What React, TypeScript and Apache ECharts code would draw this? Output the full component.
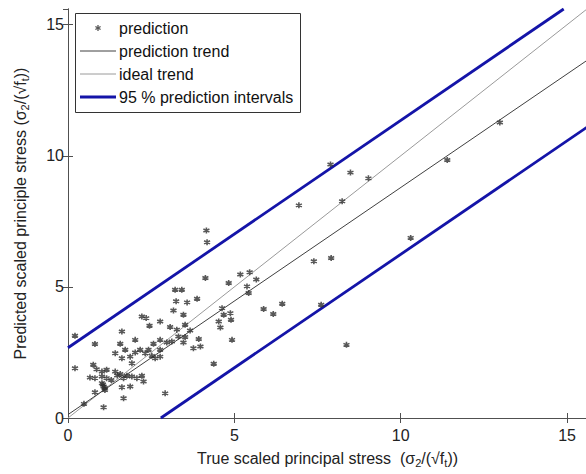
import React, { useEffect, useRef } from "react";
import * as echarts from "echarts";

const trueStress = [
  0.21, 0.21, 4.16, 4.18, 6.94, 8.24, 7.89, 8.49, 9.03, 11.4, 12.98, 10.3, 7.39, 7.91, 7.61, 8.37,
  6.44, 5.88, 6.17, 5.66, 4.13, 4.83, 5.18, 5.46, 5.38, 5.43, 4.63, 4.68, 4.88, 4.9, 4.53, 4.58,
  4.93, 4.38, 3.22, 3.42, 3.25, 3.58, 3.88, 3.17, 3.47, 3.93, 3.77, 3.98, 3.52, 3.67, 3.27, 3.07,
  2.77, 2.45, 2.22, 2.35, 1.62, 2.02, 0.81, 3.32, 3.12, 3.47, 3.52, 2.77, 2.57, 2.42, 2.77, 2.97,
  2.17, 2.02, 1.87, 2.32, 2.52, 2.77, 2.62, 1.57, 1.72, 1.42, 1.62, 1.92, 0.76, 0.86, 1.02, 1.16,
  0.66, 0.81, 1.02, 1.16, 1.42, 1.57, 1.77, 1.92, 1.67, 2.07, 2.22, 2.27, 1.87, 1.62, 1.02, 1.07,
  1.11, 0.81, 1.67, 1.07, 0.48, 2.92, 1.05, 1.1, 1.3, 1.48,
];
const predictedStress = [
  3.14, 1.9, 7.15, 6.7, 8.11, 8.27, 9.67, 9.36, 9.14, 9.84, 11.27, 6.87, 5.98, 6.1, 4.32, 2.79,
  4.36, 4.16, 3.97, 5.28, 5.34, 5.15, 5.47, 5.56, 5.02, 4.77, 4.19, 3.94, 4.0, 3.75, 3.68, 3.45,
  2.98, 2.07, 4.89, 4.89, 4.45, 4.41, 4.55, 4.1, 3.94, 3.01, 2.66, 2.73, 3.56, 3.34, 3.37, 3.47,
  3.68, 3.52, 3.87, 3.81, 3.3, 2.98, 2.82, 3.11, 2.92, 2.88, 3.09, 2.98, 2.83, 2.6, 2.6, 2.88,
  2.6, 2.5, 2.34, 2.47, 2.37, 2.34, 2.28, 2.83, 2.6, 2.47, 2.28, 2.09, 2.03, 1.86, 1.77, 1.84,
  1.54, 1.52, 1.58, 1.52, 1.77, 1.68, 1.61, 1.58, 1.52, 1.52, 1.61, 1.39, 1.2, 1.17, 1.33, 1.2,
  1.07, 0.98, 0.75, 0.41, 0.54, 0.94, 1.28, 1.15, 1.45, 1.62,
];

const trendX = [0, 15.6];
const trendY = [0.13, 13.64];
const idealX = [0, 15.6];
const idealY = [0, 15.6];
const upperX = [0, 14.9];
const upperY = [2.68, 15.6];
const lowerX = [2.79, 15.6];
const lowerY = [0, 11.09];

const xTicks = [0, 5, 10, 15];
const yTicks = [0, 5, 10, 15];

const legendLabels = ["prediction", "prediction trend", "ideal trend", "95 % prediction intervals"];

const FONT = "Liberation Sans, Arial, sans-serif";
const BLUE = "#1414a8";
const AXIS = "#505050";

const zip = (a: number[], b: number[]) => a.map((v, i) => [v, b[i]]);

export default function App() {
  const ref = useRef<HTMLDivElement>(null);
  useEffect(() => {
    if (!ref.current) return;
    const chart = echarts.init(ref.current, null, { renderer: "svg" });
    const subRich = {
      s: { fontSize: 11, fontFamily: FONT, color: "#222", padding: [9, 0, 0, 0] },
    };
    const baseAxis = {
      type: "value" as const,
      min: 0,
      max: 15.6,
      interval: 5,
      splitLine: { show: false },
      axisLine: { show: true, lineStyle: { color: AXIS, width: 1 } },
      axisTick: { show: true, inside: true, length: 5, lineStyle: { color: AXIS } },
    };
    const asterisk = "path://M5,0L5,10M0.67,2.5L9.33,7.5M0.67,7.5L9.33,2.5";
    chart.setOption({
      animation: false,
      backgroundColor: "#fff",
      grid: { left: 68, top: 9, right: -1, bottom: 56, outerBoundsMode: "none", containLabel: false },
      xAxis: [
        {
          ...baseAxis,
          position: "bottom",
          axisLabel: {
            fontSize: 16,
            fontFamily: FONT,
            color: "#222",
            margin: 9,
            showMaxLabel: false,
            formatter: (v: number) => (xTicks.includes(v) ? String(v) : ""),
          },
          name: "True scaled principal stress  (σ{s|2}/(√f{s|t}))",
          nameLocation: "middle",
          nameGap: 30,
          nameTextStyle: { fontSize: 16, fontFamily: FONT, color: "#222", rich: subRich },
        },
        { ...baseAxis, position: "top", axisLabel: { show: false } },
      ],
      yAxis: [
        {
          ...baseAxis,
          position: "left",
          axisLabel: {
            fontSize: 16,
            fontFamily: FONT,
            color: "#222",
            margin: 4,
            showMaxLabel: false,
            formatter: (v: number) => (yTicks.includes(v) ? String(v) : ""),
          },
          name: "Predicted scaled principle stress (σ{s|2}/(√f{s|t}))",
          nameLocation: "middle",
          nameGap: 38,
          nameTextStyle: { fontSize: 16, fontFamily: FONT, color: "#222", rich: subRich },
        },
        { ...baseAxis, position: "right", axisLabel: { show: false } },
      ],
      series: [
        {
          name: "ideal trend",
          type: "line",
          data: zip(idealX, idealY),
          symbol: "none",
          lineStyle: { color: "#9a9a9a", width: 1 },
          z: 2,
        },
        {
          name: "prediction trend",
          type: "line",
          data: zip(trendX, trendY),
          symbol: "none",
          lineStyle: { color: "#404040", width: 1 },
          z: 2,
        },
        {
          name: "95 % prediction intervals",
          type: "line",
          data: zip(upperX, upperY),
          symbol: "none",
          lineStyle: { color: BLUE, width: 2.8 },
          z: 3,
        },
        {
          name: "95 % prediction intervals",
          type: "line",
          data: zip(lowerX, lowerY),
          symbol: "none",
          lineStyle: { color: BLUE, width: 2.8 },
          z: 3,
        },
        {
          name: "prediction",
          type: "scatter",
          data: zip(trueStress, predictedStress),
          symbol: asterisk,
          symbolSize: 6,
          itemStyle: { color: "transparent", borderColor: "#2e2e2e", borderWidth: 1.6 },
          z: 4,
        },
      ],
      graphic: [
        {
          type: "group",
          z: 100,
          children: [
            {
              type: "rect",
              shape: { x: 75.5, y: 13.5, width: 225, height: 99 },
              style: { fill: "#fff", stroke: "#333", lineWidth: 1 },
            },
            {
              type: "group",
              x: 98,
              y: 28,
              children: [
                { type: "line", shape: { x1: 0, y1: -3, x2: 0, y2: 3 }, style: { stroke: "#555", lineWidth: 1.3 } },
                { type: "line", shape: { x1: -2.6, y1: -1.5, x2: 2.6, y2: 1.5 }, style: { stroke: "#555", lineWidth: 1.3 } },
                { type: "line", shape: { x1: -2.6, y1: 1.5, x2: 2.6, y2: -1.5 }, style: { stroke: "#555", lineWidth: 1.3 } },
              ],
            },
            { type: "line", shape: { x1: 80, y1: 51, x2: 116, y2: 51 }, style: { stroke: "#404040", lineWidth: 1 } },
            { type: "line", shape: { x1: 80, y1: 74, x2: 116, y2: 74 }, style: { stroke: "#9a9a9a", lineWidth: 1 } },
            { type: "line", shape: { x1: 80, y1: 97, x2: 116, y2: 97 }, style: { stroke: BLUE, lineWidth: 2.8 } },
            ...legendLabels.map((t, i) => ({
              type: "text",
              x: 119,
              y: [28, 51, 74, 97][i],
              style: {
                text: t,
                fontSize: 16,
                fontFamily: FONT,
                fill: "#111",
                verticalAlign: "middle",
                align: "left",
              },
            })),
          ],
        },
      ],
    });
    return () => chart.dispose();
  }, []);
  return (
    <div
      ref={ref}
      style={{ position: "fixed", left: 0, top: 0, width: 586, height: 474 }}
    />
  );
}
